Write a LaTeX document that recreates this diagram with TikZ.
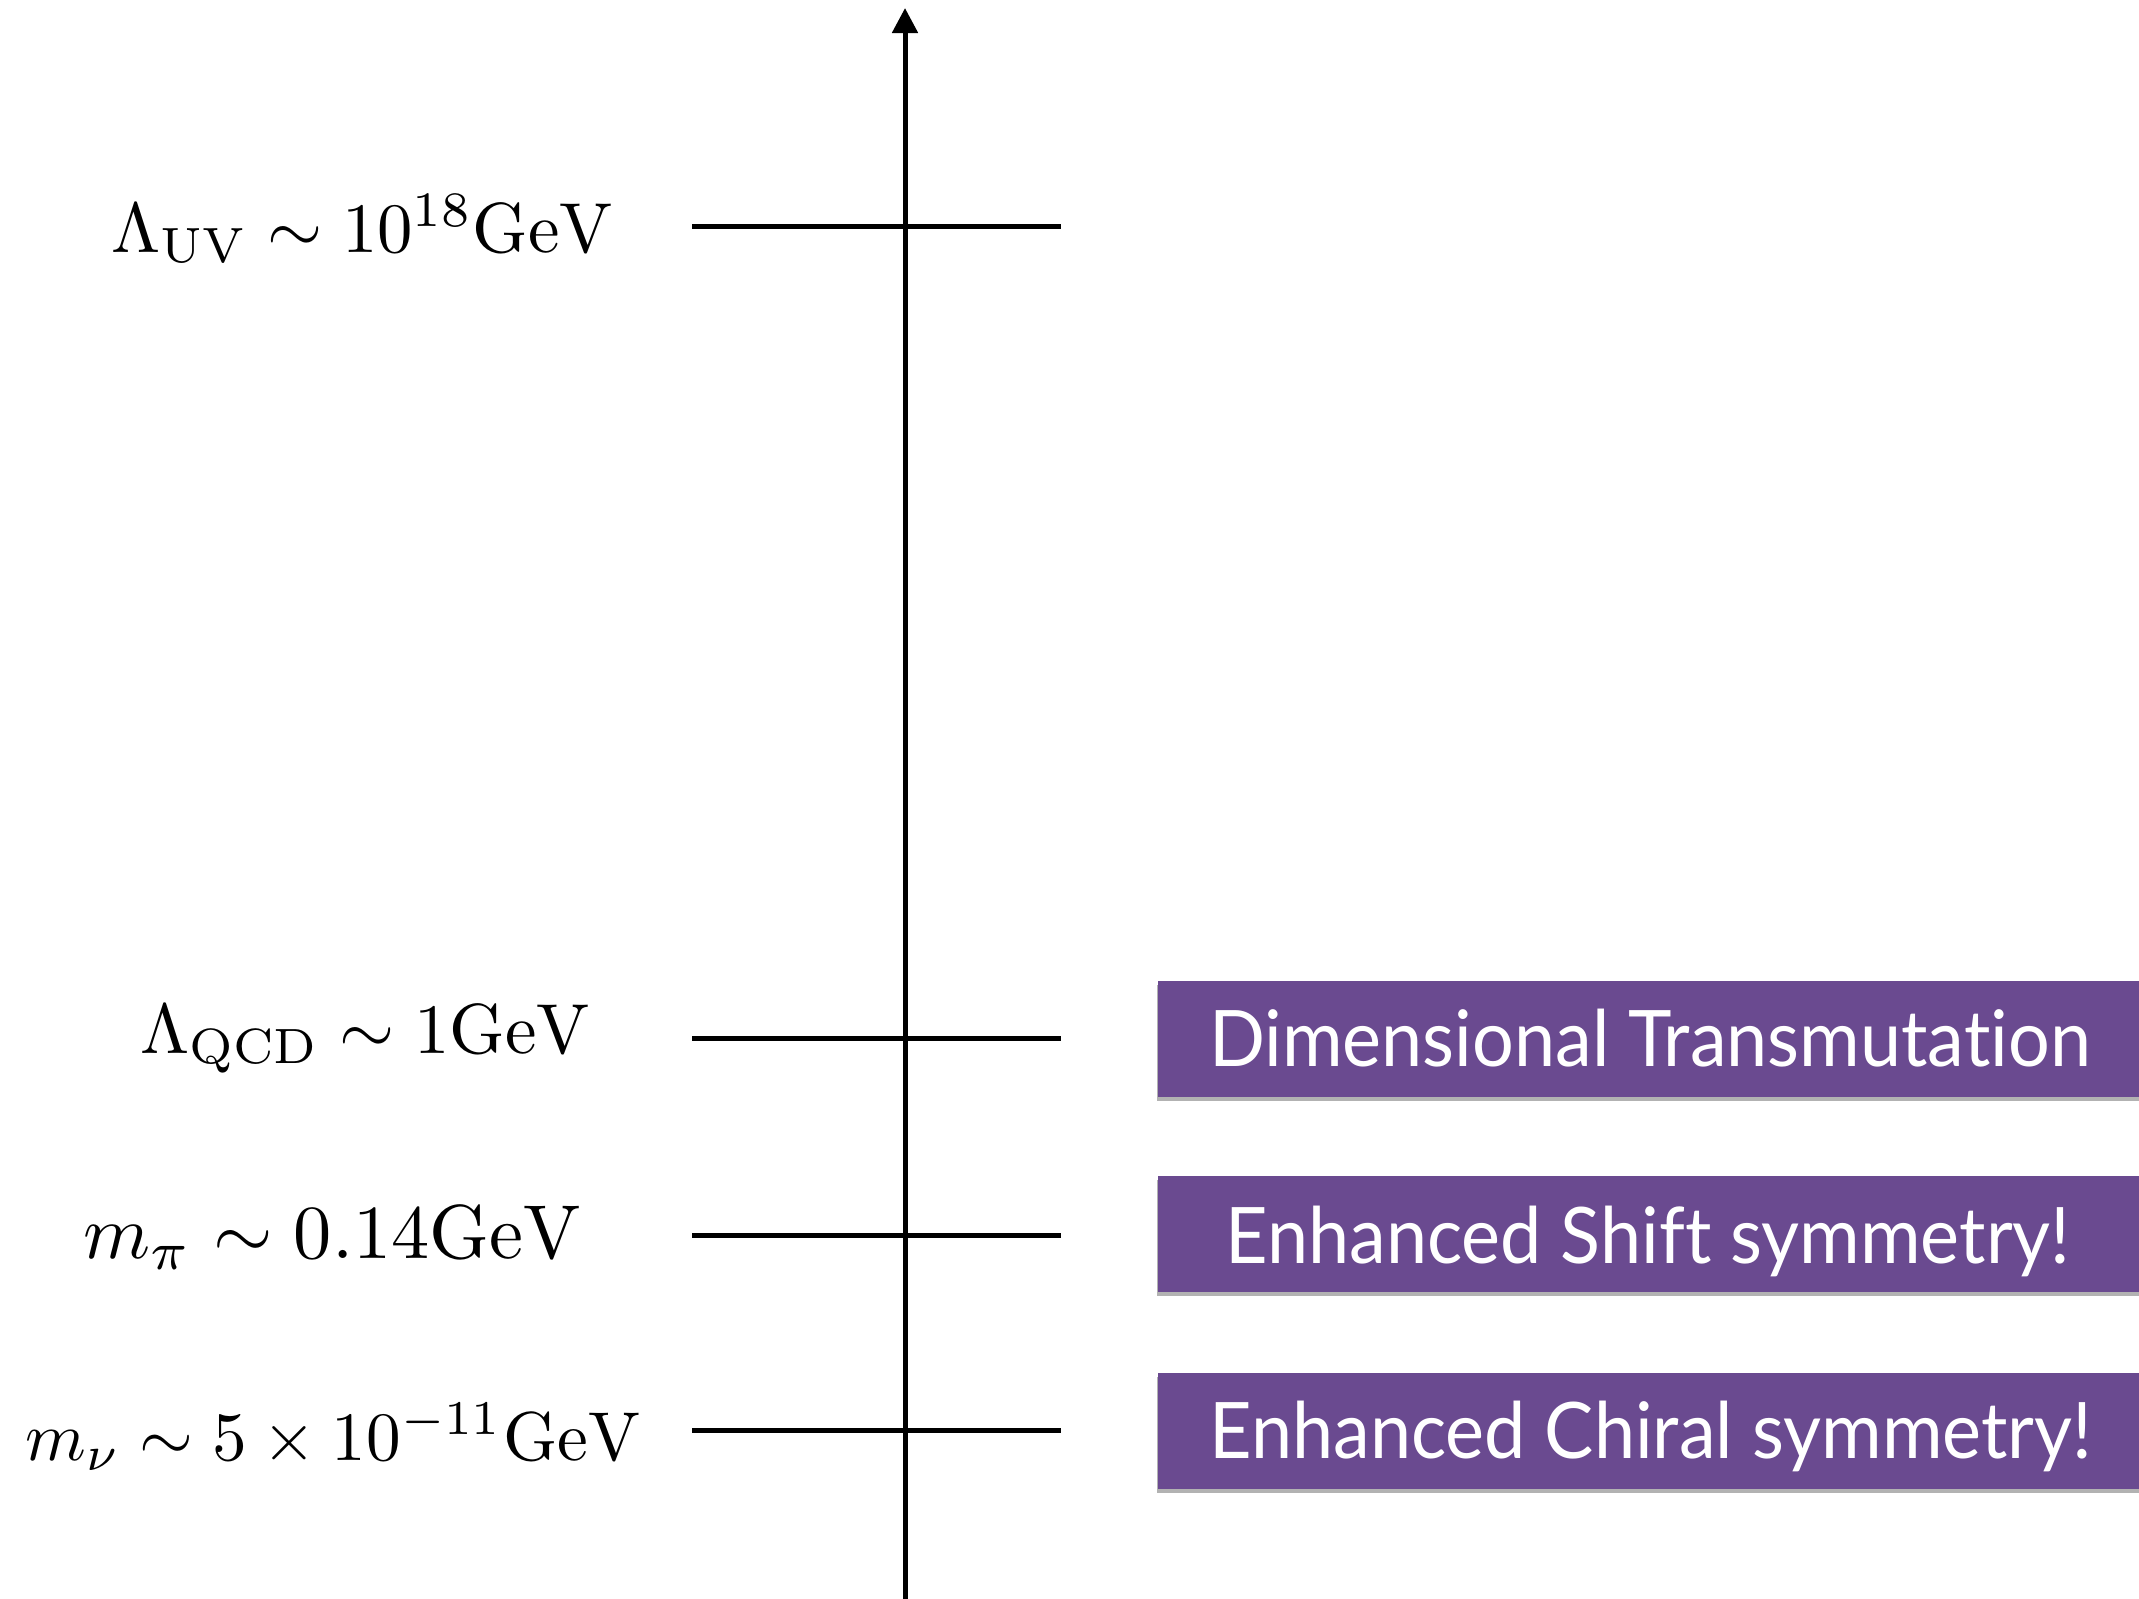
\documentclass[tikz,border=0pt]{standalone}
\usepackage{fontspec}
\newfontfamily\boxfont[FakeStretch=0.945,Ligatures=NoCommon]{Lato}
\usetikzlibrary{arrows.meta,shadows}
\definecolor{boxpurple}{RGB}{106,74,144}
\begin{document}
\begin{tikzpicture}[x=0.25pt,y=-0.25pt,
  ln/.style={line width=1.25pt},
  lab/.style={anchor=base west, inner sep=0pt, scale=1.77},
  banner/.style={anchor=west, fill=boxpurple, draw=none, minimum width=247pt, minimum height=29pt, inner sep=0pt,
    drop shadow={shadow xshift=-0.3pt, shadow yshift=-1pt, opacity=0.3, fill=black}},
  btext/.style={anchor=base, inner sep=0pt, text=white, font=\boxfont\fontsize{19.5}{23}\selectfont}]
\useasboundingbox (0,0) rectangle (2139,1598);
% axis
\coordinate (axb) at (905,1600);
\coordinate (axt) at (905,8);
\draw[ln, -{Triangle[width=6.25pt,length=6.25pt]}] (axb) -- (axt);
% ticks
\coordinate (t1l) at (692,226);  \coordinate (t1r) at (1061,226);
\coordinate (t2l) at (692,1038); \coordinate (t2r) at (1061,1038);
\coordinate (t3l) at (692,1235); \coordinate (t3r) at (1061,1235);
\coordinate (t4l) at (692,1430); \coordinate (t4r) at (1061,1430);
\draw[ln] (t1l) -- (t1r);
\draw[ln] (t2l) -- (t2r);
\draw[ln] (t3l) -- (t3r);
\draw[ln] (t4l) -- (t4r);
% labels
\node[lab] (l1) at (110,252) {$\Lambda_{\rm UV}\sim 10^{18}{\rm GeV}$};
\node[lab] (l2) at (139,1053) {$\Lambda_{\rm QCD}\sim 1{\rm GeV}$};
\node[lab, scale=1.91/1.77] (l3) at (82,1258) {$m_\pi\sim 0.14{\rm GeV}$};
\node[lab, scale=1.73/1.77] (l4) at (24,1460) {$m_\nu\sim 5\times 10^{-11}{\rm GeV}$};
% banners
\node[banner] (b1) at (1157,1039) {};
\node[banner] (b2) at (1157,1234) {};
\node[banner] (b3) at (1157,1431) {};
\node[btext] (bt1) at (1650,1066) {Dimensional Transmutation};
\node[btext] (bt2) at (1648,1263) {Enhanced Shift symmetry!};
\node[btext] (bt3) at (1651,1458) {Enhanced Chiral symmetry!};
\end{tikzpicture}
\end{document}
